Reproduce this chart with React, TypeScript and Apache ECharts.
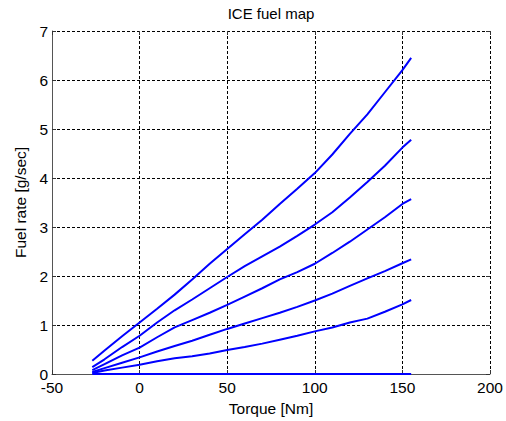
import React, { useEffect, useRef } from "react";
import * as echarts from "echarts";

const torque = [-27, -20, -10, 0, 10, 20, 30, 40, 50, 60, 70, 80, 90, 100, 110, 120, 130, 140, 150, 155];
const curve1 = [0.27, 0.48, 0.77, 1.05, 1.33, 1.62, 1.93, 2.25, 2.55, 2.85, 3.15, 3.47, 3.78, 4.1, 4.48, 4.9, 5.3, 5.75, 6.2, 6.45];
const curve2 = [0.14, 0.3, 0.55, 0.78, 1.05, 1.3, 1.52, 1.75, 1.98, 2.2, 2.4, 2.6, 2.82, 3.05, 3.3, 3.6, 3.92, 4.25, 4.62, 4.78];
const curve3 = [0.08, 0.2, 0.38, 0.54, 0.75, 0.95, 1.1, 1.25, 1.41, 1.58, 1.75, 1.93, 2.08, 2.25, 2.47, 2.7, 2.95, 3.2, 3.47, 3.57];
const curve4 = [0.04, 0.12, 0.23, 0.34, 0.46, 0.57, 0.68, 0.8, 0.92, 1.03, 1.14, 1.25, 1.37, 1.5, 1.64, 1.8, 1.95, 2.1, 2.26, 2.34];
const curve5 = [0.02, 0.07, 0.13, 0.19, 0.26, 0.32, 0.36, 0.42, 0.49, 0.55, 0.62, 0.7, 0.78, 0.87, 0.95, 1.05, 1.13, 1.27, 1.42, 1.51];
const curve6 = [0, 0, 0, 0, 0, 0, 0, 0, 0, 0, 0, 0, 0, 0, 0, 0, 0, 0, 0, 0];
const curves = [curve1, curve2, curve3, curve4, curve5, curve6];

const titleText = "ICE fuel map";
const xName = "Torque [Nm]";
const yName = "Fuel rate [g/sec]";

const FONT = "Liberation Sans, Arial, sans-serif";

export default function App() {
  const ref = useRef<HTMLDivElement>(null);
  useEffect(() => {
    if (!ref.current) return;
    const chart = echarts.init(ref.current, null, { renderer: "svg" });
    const gridLeft = 52;
    const gridRight = 16;
    const gridTop = 31;
    const gridBottom = 45;
    const splitLine = {
      show: true,
      lineStyle: { color: "#000", type: [3, 2] as any, width: 1 },
    };
    const tick = { show: true, inside: true, length: 4, lineStyle: { color: "#333" } };
    chart.setOption({
      animation: false,
      backgroundColor: "#fff",
      grid: { left: gridLeft, right: gridRight, top: gridTop, bottom: gridBottom },
      graphic: [
        {
          type: "text",
          x: gridLeft + (506 - gridLeft - gridRight) / 2,
          y: 13,
          style: {
            text: titleText,
            align: "center",
            verticalAlign: "middle",
            fontSize: 15,
            fontFamily: FONT,
            fill: "#000",
          },
        },
      ],
      xAxis: [
        {
          type: "value",
          min: -50,
          max: 200,
          interval: 50,
          position: "bottom",
          name: xName,
          nameLocation: "middle",
          nameGap: 26,
          nameTextStyle: { fontSize: 15.5, fontFamily: FONT, color: "#000" },
          axisLine: { show: true, onZero: false, lineStyle: { color: "#555", width: 1 } },
          axisTick: tick,
          axisLabel: { fontSize: 15.5, fontFamily: FONT, color: "#000", margin: 5 },
          splitLine,
        },
        {
          type: "value",
          min: -50,
          max: 200,
          interval: 50,
          position: "top",
          axisLine: { show: false, onZero: false },
          axisTick: tick,
          axisLabel: { show: false },
          splitLine: { show: false },
        },
      ],
      yAxis: [
        {
          type: "value",
          min: 0,
          max: 7,
          interval: 1,
          position: "left",
          name: yName,
          nameLocation: "middle",
          nameGap: 24,
          nameTextStyle: { fontSize: 15.5, fontFamily: FONT, color: "#000" },
          axisLine: { show: true, onZero: false, lineStyle: { color: "#555", width: 1 } },
          axisTick: tick,
          axisLabel: { fontSize: 15.5, fontFamily: FONT, color: "#000", margin: 4 },
          splitLine,
        },
        {
          type: "value",
          min: 0,
          max: 7,
          interval: 1,
          position: "right",
          axisLine: { show: false, onZero: false },
          axisTick: tick,
          axisLabel: { show: false },
          splitLine: { show: false },
        },
      ],
      series: curves.map((c, i) => ({
        type: "line",
        name: "c" + i,
        xAxisIndex: 0,
        yAxisIndex: 0,
        data: torque.map((t, j) => [t, c[j]]),
        showSymbol: false,
        symbol: "none",
        lineStyle: { color: "#0000ff", width: 2 },
        z: 5,
      })),
    });
    return () => chart.dispose();
  }, []);
  return (
    <div
      ref={ref}
      style={{ position: "fixed", left: 0, top: 0, width: 506, height: 421, background: "#fff" }}
    />
  );
}
